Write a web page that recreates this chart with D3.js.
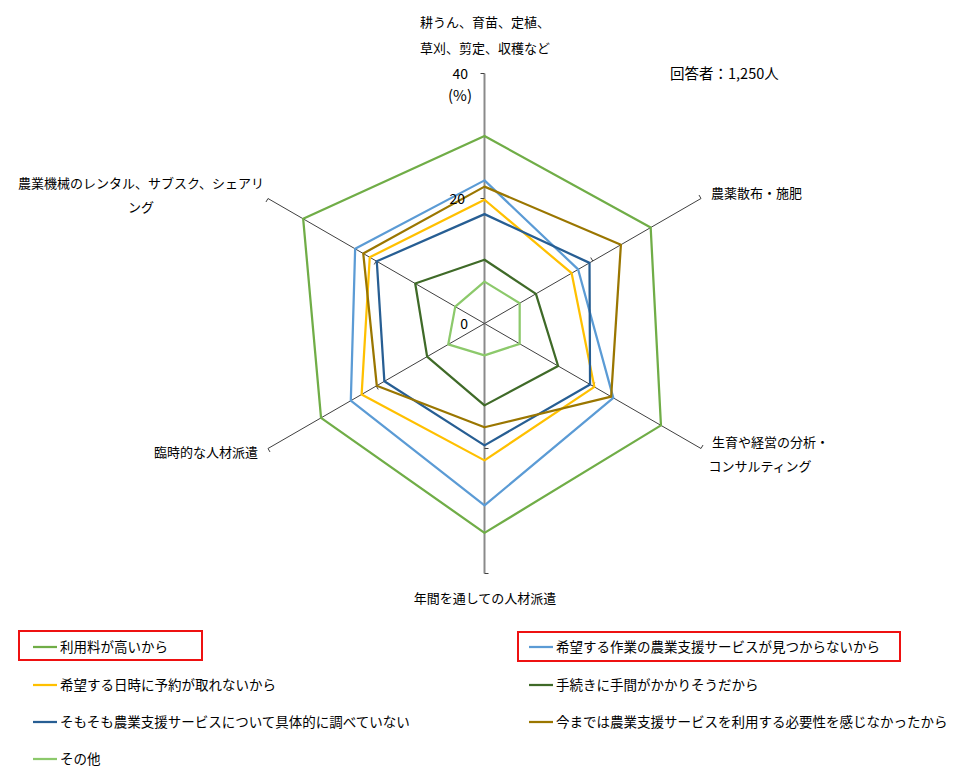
<!DOCTYPE html>
<html>
<head>
<meta charset="utf-8">
<script src="https://cdn.jsdelivr.net/npm/d3@7"></script>
<style>
  body { margin: 0; background: #fff; }
  text { font-family: "Noto Sans CJK JP", "Noto Sans", sans-serif; fill: #000; }
</style>
</head>
<body>
<div id="chart-area"></div>
<script>
// categories, clockwise from the top
const categories = [
  ["耕うん、育苗、定植、", "草刈、剪定、収穫など"],
  ["農薬散布・施肥"],
  ["生育や経営の分析・", "コンサルティング"],
  ["年間を通しての人材派遣"],
  ["臨時的な人材派遣"],
  ["農業機械のレンタル、サブスク、シェアリ", "ング"]
];

const seriesNames = [
  "利用料が高いから",
  "希望する作業の農業支援サービスが見つからないから",
  "希望する日時に予約が取れないから",
  "手続きに手間がかかりそうだから",
  "そもそも農業支援サービスについて具体的に調べていない",
  "今までは農業支援サービスを利用する必要性を感じなかったから",
  "その他"
];

const highCost    = [30.0, 30.7, 32.6, 33.5, 30.2, 33.5];
const notFound    = [22.9, 17.3, 23.8, 29.1, 24.7, 23.9];
const noBooking   = [19.8, 16.1, 20.3, 21.9, 22.7, 21.2];
const paperwork   = [10.2,  9.5, 13.6, 13.1, 10.6, 12.8];
const notChecked  = [17.5, 19.4, 19.5, 19.5, 18.5, 19.9];
const noNeed      = [21.9, 25.2, 23.4, 16.6, 19.9, 22.4];
const other       = [ 6.7,  6.5,  6.5,  5.1,  6.7,  5.4];

const tickValues = [0, 20, 40];
const respondents = "回答者：1,250人";

const colors = ["#70AD47", "#5B9BD5", "#FFC000", "#3F6A28", "#275E93", "#9A7600", "#8CC96B"];
const allSeries = [highCost, notFound, noBooking, paperwork, notChecked, noNeed, other];
// drawing order (back to front) roughly as in the picture
const drawOrder = [0, 1, 2, 4, 5, 3, 6];

const width = 960, height = 782;
const cx = 484.5, cy = 323.5;

const svg = d3.select("#chart-area")
  .append("svg")
    .attr("width", width)
    .attr("height", height);

const r = d3.scaleLinear().domain([0, 40]).range([0, 250]);
const angle = d3.scalePoint().domain(d3.range(categories.length)).range([0, 300]);

function pt(i, v) {
  const a = angle(i) * Math.PI / 180;
  return [cx + r(v) * Math.sin(a), cy - r(v) * Math.cos(a)];
}

const g = svg.append("g");

// spokes
categories.forEach((c, i) => {
  const end = pt(i, 40);
  g.append("line")
    .attr("x1", cx).attr("y1", cy)
    .attr("x2", end[0]).attr("y2", end[1])
    .attr("stroke", i === 0 || i === 3 ? "#8a8a8a" : "#404040")
    .attr("stroke-width", i === 0 || i === 3 ? 2 : 1);

  // small ticks at each major value
  tickValues.slice(1).forEach(t => {
    const p = pt(i, t);
    const a = angle(i) * Math.PI / 180;
    const px = -Math.cos(a) * 4, py = -Math.sin(a) * 4;
    g.append("line")
      .attr("x1", p[0]).attr("y1", p[1])
      .attr("x2", p[0] + px).attr("y2", p[1] + py)
      .attr("stroke", "#404040").attr("stroke-width", 1);
  });
});

// series
const line = d3.line().curve(d3.curveLinearClosed);
drawOrder.forEach(k => {
  g.append("path")
    .attr("d", line(allSeries[k].map((v, i) => pt(i, v))))
    .attr("fill", "none")
    .attr("stroke", colors[k])
    .attr("stroke-width", 2.25)
    .attr("stroke-linejoin", "round");
});

// value labels
tickValues.forEach(t => {
  svg.append("text")
    .attr("x", t === 20 ? 465 : 468).attr("y", cy - r(t) + 5)
    .attr("text-anchor", "end")
    .attr("font-size", 14)
    .text(t);
});
svg.append("text")
  .attr("x", 472).attr("y", 101)
  .attr("text-anchor", "end")
  .attr("font-size", 15)
  .text("(%)");

// category labels
const labelPos = [
  {x: 485, y: 27, anchor: "middle", dy: 26},
  {x: 711, y: 198, anchor: "start", dy: 24},
  {x: 712, y: 447, anchor: "start", dy: 24, second: {x: 760, anchor: "middle"}},
  {x: 485, y: 603, anchor: "middle", dy: 24},
  {x: 258, y: 457, anchor: "end", dy: 24},
  {x: 141, y: 188, anchor: "middle", dy: 24}
];
categories.forEach((c, i) => {
  const p = labelPos[i];
  c.forEach((s, j) => {
    const sec = j > 0 && p.second;
    svg.append("text")
      .attr("x", sec ? p.second.x : p.x)
      .attr("y", p.y + j * p.dy)
      .attr("text-anchor", sec ? p.second.anchor : p.anchor)
      .attr("font-size", 13)
      .text(s);
  });
});

svg.append("text")
  .attr("x", 670).attr("y", 79)
  .attr("font-size", 14.5)
  .text(respondents);

// legend: two columns
const legendPos = [
  [33, 647], [529, 647],
  [33, 685], [529, 685],
  [33, 722], [529, 722],
  [33, 759]
];
seriesNames.forEach((name, k) => {
  const [lx, ly] = legendPos[k];
  svg.append("line")
    .attr("x1", lx).attr("x2", lx + 24)
    .attr("y1", ly).attr("y2", ly)
    .attr("stroke", colors[k]).attr("stroke-width", 2.25);
  svg.append("text")
    .attr("x", lx + 27).attr("y", ly + 5)
    .attr("font-size", 13.5)
    .text(name);
});

// red highlight boxes
svg.append("rect")
  .attr("x", 19).attr("y", 631).attr("width", 183).attr("height", 29)
  .attr("fill", "none").attr("stroke", "#ee1111").attr("stroke-width", 2);
svg.append("rect")
  .attr("x", 518).attr("y", 632).attr("width", 382).attr("height", 29)
  .attr("fill", "none").attr("stroke", "#ee1111").attr("stroke-width", 2);
</script>
</body>
</html>
